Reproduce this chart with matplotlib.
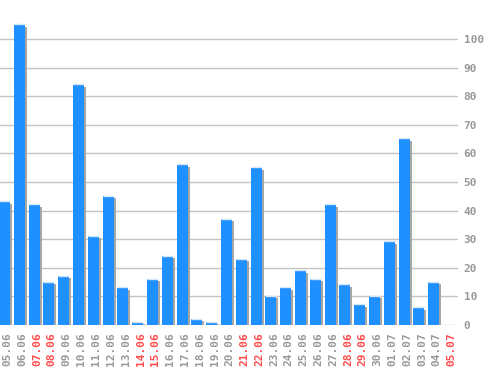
import matplotlib
matplotlib.use("Agg")
import matplotlib.pyplot as plt
import matplotlib.transforms as mtransforms
import numpy as np

dates = ["05.06", "06.06", "07.06", "08.06", "09.06", "10.06", "11.06", "12.06",
         "13.06", "14.06", "15.06", "16.06", "17.06", "18.06", "19.06", "20.06",
         "21.06", "22.06", "23.06", "24.06", "25.06", "26.06", "27.06", "28.06",
         "29.06", "30.06", "01.07", "02.07", "03.07", "04.07", "05.07"]
values = [43, 105, 42, 15, 17, 84, 31, 45, 13, 1, 16, 24, 56, 2, 1, 37,
          23, 55, 10, 13, 19, 16, 42, 14, 7, 10, 29, 65, 6, 15, 0]
weekend = ["07.06", "08.06", "14.06", "15.06", "21.06", "22.06",
           "28.06", "29.06", "05.07"]
yticks = [0, 10, 20, 30, 40, 50, 60, 70, 80, 90, 100]

W, H = 498, 370
fig = plt.figure(figsize=(W / 100, H / 100), dpi=100)
ax_left, ax_right = 0, 458
ax_bottom, ax_top = 325, 0  # pixel rows from top
ax = fig.add_axes([ax_left / W, (H - ax_bottom) / H,
                   (ax_right - ax_left) / W, (ax_bottom - ax_top) / H])

x = np.arange(len(dates))
bw = 0.74
px_per_unit = 2.86
ax.set_xlim(-0.304, 30.64)
ax.set_ylim(0, 325 / px_per_unit)

# shadows
shadow_tr = ax.transData + mtransforms.ScaledTranslation(2 / 100, -2 / 100, fig.dpi_scale_trans)
ax.bar(x, values, width=bw, color="#a6a6a6", edgecolor="none", transform=shadow_tr, zorder=2)
# main bars
ax.bar(x, values, width=bw, color="#1e90ff", edgecolor="none", zorder=3)
# top highlight
hl_tr = ax.transData + mtransforms.ScaledTranslation(0, 0.6 / 100, fig.dpi_scale_trans)
ax.hlines([v for v in values if v > 0], [xi - bw / 2 for xi, v in zip(x, values) if v > 0],
          [xi + bw / 2 for xi, v in zip(x, values) if v > 0],
          colors="#d6e6f6", linewidth=1, transform=hl_tr, zorder=4)

ax.set_yticks(yticks)
ax.yaxis.grid(True, color="#c4c4c4", linewidth=1)
ax.set_axisbelow(True)
ax.yaxis.tick_right()
ax.tick_params(axis="y", length=0, pad=4, labelsize=8, labelcolor="#999999")
for lbl in ax.get_yticklabels():
    lbl.set_family("DejaVu Sans Mono")
    lbl.set_fontweight("bold")

ax.set_xticks(x + 0.2)
ax.set_xticklabels(dates, rotation=90, family="DejaVu Sans Mono", fontsize=8, fontweight="bold")
ax.tick_params(axis="x", length=0, pad=5)
for lbl, d in zip(ax.get_xticklabels(), dates):
    lbl.set_color("#ff4c4c" if d in weekend else "#999999")

for s in ax.spines.values():
    s.set_visible(False)
ax.patch.set_alpha(0)

fig.savefig("out.png", dpi=100, facecolor="white")
